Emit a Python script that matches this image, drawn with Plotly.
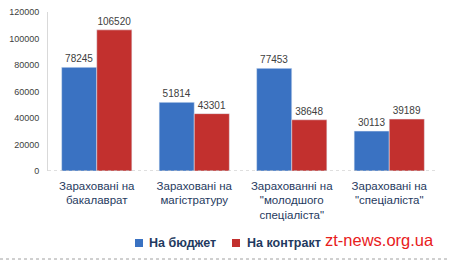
import plotly.graph_objects as go

categories = ["Зараховані на<br>бакалаврат", "Зараховані на<br>магістратуру",
              "Зарахованні на<br>\"молодшого<br>спеціаліста\"", "Зараховані на<br>\"спеціаліста\""]
series_names = ["На бюджет", "На контракт"]
budget = [78245, 51814, 77453, 30113]
contract = [106520, 43301, 38648, 39189]
y_ticks = [0, 20000, 40000, 60000, 80000, 100000, 120000]
colors = ["#3a72c2", "#c2302e"]

font = "Liberation Sans"
W, H = 450, 262
L, R, T, B = 48, 12, 12, 91
pw, ph = W - L - R, H - T - B


def px(x):
    return (x - L) / pw


def py(y):
    return (H - B - y) / ph


fig = go.Figure()
for name, vals, col in zip(series_names, [budget, contract], colors):
    fig.add_trace(go.Bar(x=categories, y=vals, name=name, marker_color=col,
                         text=[str(v) for v in vals], textposition="outside",
                         textfont=dict(size=10, color="#404040", family=font),
                         cliponaxis=False, showlegend=False))

fig.update_layout(
    width=W, height=H, margin=dict(l=L, r=R, t=T, b=B, autoexpand=False),
    paper_bgcolor="white", plot_bgcolor="white",
    barmode="group", bargap=0.28, bargroupgap=0,
    font=dict(family=font),
    xaxis=dict(tickfont=dict(size=11.5, color="#1f3a60", family=font), showline=False,
               ticks="", showgrid=False, ticklabelstandoff=6),
    yaxis=dict(range=[0, 120000], tickvals=y_ticks, ticktext=[str(v) for v in y_ticks],
               tickfont=dict(size=9, color="#404040", family=font), showgrid=False,
               showline=True, linecolor="#d9d9d9", linewidth=1, ticks="", zeroline=False,
               ticklabelstandoff=6),
    showlegend=False,
)
fig.add_shape(type="line", xref="paper", yref="y", x0=0, x1=1, y0=0, y1=0,
              line=dict(color="#bfbfbf", width=1, dash="dot"))
fig.add_shape(type="line", xref="paper", yref="paper", x0=px(0), x1=px(W), y0=py(259), y1=py(259),
              line=dict(color="#a0a0a0", width=1, dash="dot"))

# legend drawn manually
leg = [(135, 147), (232, 245)]
for (sx, tx), name, col in zip(leg, series_names, colors):
    fig.add_shape(type="rect", xref="paper", yref="paper", x0=px(sx), x1=px(sx + 8),
                  y0=py(247), y1=py(239), fillcolor=col, line=dict(width=0))
    fig.add_annotation(text="<b>" + name + "</b>", xref="paper", yref="paper", x=px(tx), y=py(243),
                       xanchor="left", yanchor="middle", showarrow=False,
                       font=dict(size=12.5, color="#1f3a60", family=font))

fig.add_annotation(text="zt-news.org.ua", xref="paper", yref="paper", x=px(436), y=py(240),
                   xanchor="right", yanchor="middle", showarrow=False,
                   font=dict(size=16.5, color="#e8201c", family="Liberation Sans"))
fig.write_html("out.html")
